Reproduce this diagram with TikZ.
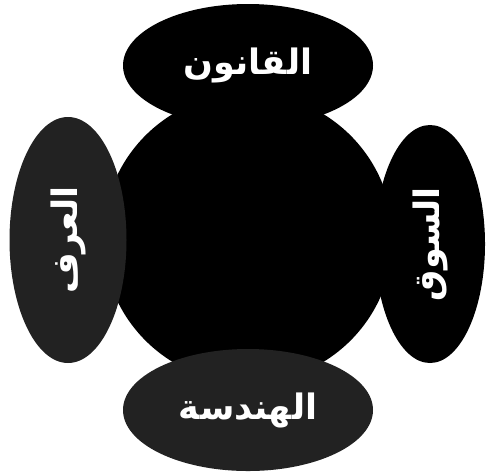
\documentclass[tikz,border=0pt]{standalone}
\usepackage{fontspec}
\usetikzlibrary{shapes.geometric}
\newfontfamily\arabicfont[Script=Arabic]{DejaVu Sans}
\TeXXeTstate=1
\definecolor{darkgrey}{HTML}{222222}
\tikzset{
  petal/.style={ellipse, inner sep=0pt, text=white, font=\arabicfont\bfseries\fontsize{35}{38}\selectfont},
}
\begin{document}
\begin{tikzpicture}[x=1pt,y=-1pt]
\useasboundingbox (0,0) rectangle (486,475);
\node[circle, fill=black, minimum size=290pt, inner sep=0pt] (hub) at (248,238) {};
\node[petal, fill=black, minimum width=250pt, minimum height=123pt] (law) at (248,65.5) {\beginR القانون\endR};
\node[petal, fill=darkgrey, minimum width=250pt, minimum height=122pt] (eng) at (248,410) {\beginR الهندسة\endR};
\node[petal, fill=darkgrey, rotate=90, minimum width=246pt, minimum height=117pt] (custom) at (68,240) {\beginR العرف\endR};
\node[petal, fill=black, rotate=90, minimum width=238pt, minimum height=110pt] (market) at (430,244) {\beginR السوق\endR};
\end{tikzpicture}
\end{document}
